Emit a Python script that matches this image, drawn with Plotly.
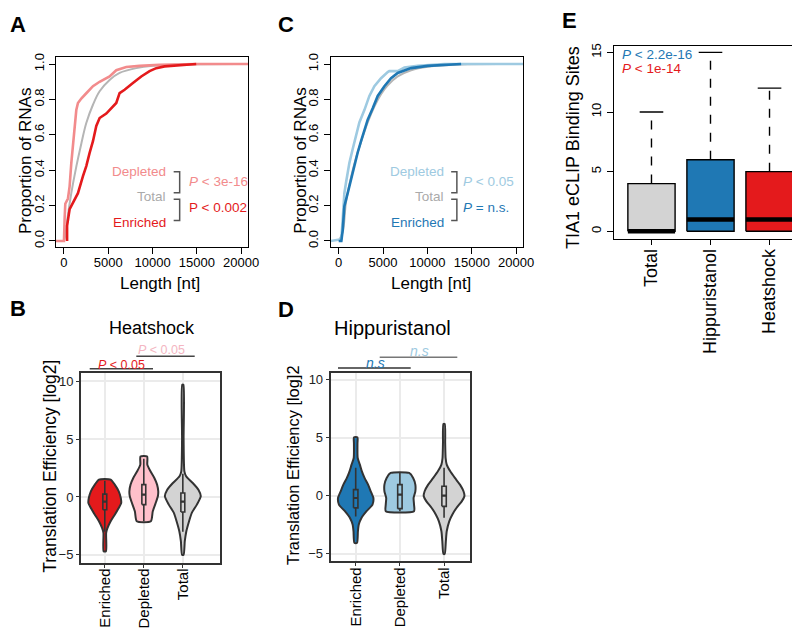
import plotly.graph_objects as go

W, H = 800, 630
FONT = "Liberation Sans, Arial, Helvetica, sans-serif"

# ---------------- data ----------------
# A: heat shock, cumulative distribution of transcript length
a_len_depleted = [-900, 0, 75, 150, 451, 639, 827, 1015, 1203, 1391, 1579, 1955, 2519, 3271,
                  4023, 5150, 5902, 7030, 8534, 10789, 15124, 20770]
a_prop_depleted = [0, 0, 0.13, 0.21, 0.24, 0.31, 0.44, 0.555, 0.655, 0.74, 0.78, 0.805, 0.835,
                   0.875, 0.90, 0.93, 0.965, 0.983, 0.99, 0.996, 1.0, 1.0]
a_len_enriched = [350, 350, 639, 1015, 1579, 2143, 2519, 2895, 3271, 3647, 4023, 4774, 5526,
                  5902, 6278, 6842, 7782, 8722, 9662, 10414, 11353, 14925]
a_prop_enriched = [0, 0.085, 0.18, 0.216, 0.27, 0.367, 0.423, 0.498, 0.564, 0.65, 0.695, 0.72,
                   0.76, 0.78, 0.836, 0.855, 0.893, 0.93, 0.96, 0.977, 0.987, 1.0]
a_len_total = [0, 150, 400, 827, 1391, 1955, 2519, 3271, 4023, 5150, 6278, 8158, 10038, 13797, 20770]
a_prop_total = [0, 0.03, 0.13, 0.27, 0.42, 0.55, 0.667, 0.77, 0.846, 0.91, 0.95, 0.977, 0.99, 0.998, 1.0]

# C: hippuristanol
c_len_depleted = [-900, 300, 451, 639, 827, 1203, 1579, 1955, 2331, 2895, 3459, 4023, 4774, 5526,
                  5700, 6654, 7406, 8910, 11917, 20770]
c_prop_depleted = [0, 0.01, 0.12, 0.27, 0.33, 0.44, 0.52, 0.60, 0.67, 0.74, 0.82, 0.875, 0.92,
                   0.955, 0.96, 0.96, 0.98, 0.99, 1.0, 1.0]
c_len_enriched = [0, 300, 451, 639, 1015, 1391, 1767, 2143, 2519, 2895, 3271, 3835, 4398, 5150,
                  5902, 6654, 8158, 10038, 13797]
c_prop_enriched = [0, 0, 0.06, 0.197, 0.27, 0.35, 0.42, 0.50, 0.564, 0.63, 0.686, 0.75, 0.82,
                   0.875, 0.92, 0.95, 0.977, 0.99, 1.0]
c_len_total = [0, 451, 827, 1391, 1955, 2519, 3271, 4023, 4774, 5526, 6654, 8158, 10038, 13797, 20770]
c_prop_total = [0, 0.05, 0.22, 0.36, 0.47, 0.56, 0.67, 0.76, 0.83, 0.88, 0.93, 0.965, 0.985, 0.998, 1.0]

len_ticks = [0, 5000, 10000, 15000, 20000]
len_labels = ["0", "5000", "10000", "15000", "20000"]
prop_ticks = [0, 0.2, 0.4, 0.6, 0.8, 1.0]
prop_labels = ["0.0", "0.2", "0.4", "0.6", "0.8", "1.0"]

# E: TIA1 eCLIP binding sites
e_groups = ["Total", "Hippuristanol", "Heatshock"]
e_q1 = [0, 0, 0]
e_median = [0, 1, 1]
e_q3 = [4, 6, 5]
e_upper = [10, 15, 12]

# B / D: violin outlines (level, half width) and inner box stats
violin_groups = ["Enriched", "Depleted", "Total"]

b_enriched_y = [1.5, 1.07, 0.49, -0.09, -0.53, -0.95, -1.53, -2.1, -2.68, -3.11, -4.7]
b_enriched_w = [0.15, 0.255, 0.357, 0.41, 0.42, 0.357, 0.255, 0.15, 0.07, 0.035, 0.03]
b_depleted_y = [3.5, 2.8, 2.22, 1.64, 1.07, 0.49, 0.06, -0.37, -1.24, -2.1]
b_depleted_w = [0.085, 0.09, 0.17, 0.27, 0.34, 0.37, 0.36, 0.32, 0.23, 0.18]
b_total_y = [9.71, 5.0, 2.22, 1.79, 1.21, 0.63, 0.06, -0.66, -1.38, -2.1, -2.97, -3.83, -4.99]
b_total_w = [0.015, 0.02, 0.04, 0.085, 0.255, 0.40, 0.46, 0.36, 0.23, 0.16, 0.09, 0.05, 0.02]
b_q1 = [-1.1, -0.66, -1.3]
b_median = [-0.4, 0.2, -0.4]
b_q3 = [0.25, 1.07, 0.35]
b_lower = [-3.0, -2.1, -3.0]
b_upper = [1.4, 3.3, 2.0]

d_enriched_y = [5.03, 4.5, 3.25, 2.68, 2.1, 1.53, 0.95, 0.38, -0.2, -0.77, -1.34, -1.92, -2.49, -3.07, -4.07]
d_enriched_w = [0.04, 0.04, 0.045, 0.094, 0.14, 0.2, 0.28, 0.34, 0.40, 0.38, 0.245, 0.13, 0.07, 0.05, 0.03]
d_depleted_y = [1.96, 1.53, 0.95, 0.38, -0.2, -0.77, -1.34]
d_depleted_w = [0.21, 0.30, 0.35, 0.35, 0.31, 0.32, 0.32]
d_total_y = [6.18, 4.5, 3.25, 2.68, 2.1, 1.53, 0.95, 0.38, -0.05, -0.49, -1.06, -1.64, -2.21, -3.07, -3.93, -5.02]
d_total_w = [0.015, 0.025, 0.035, 0.06, 0.14, 0.245, 0.36, 0.44, 0.46, 0.40, 0.28, 0.185, 0.117, 0.06, 0.04, 0.015]
d_q1 = [-1.05, -1.12, -0.92]
d_median = [-0.2, 0.09, 0.0]
d_q3 = [0.52, 0.95, 0.81]
d_lower = [-1.8, -1.34, -1.9]
d_upper = [2.4, 1.96, 2.4]

RED, PINK_LINE, PINK = "#E41A1C", "#F28B8C", "#FFC0CB"
BLUE, LBLUE = "#1F78B4", "#9ECAE1"
GREY_LINE, GREY_FILL = "#B5B5B5", "#D3D3D3"


def px(x):
    return x / W


def py(y):
    return 1 - y / H


fig = go.Figure()


def line(xs, ys, xa, ya, color="black", width=1.4, dash=None, fill=None):
    fig.add_trace(go.Scatter(x=xs, y=ys, mode="lines", xaxis=xa, yaxis=ya,
                             line=dict(color=color, width=width, dash=dash),
                             fill="toself" if fill else None, fillcolor=fill,
                             showlegend=False, hoverinfo="skip"))


# ---------------- ECDF panels ----------------
for xa, ya, series in [
    ("x", "y", [(a_len_total, a_prop_total, GREY_LINE, 2, "spline"),
                (a_len_depleted, a_prop_depleted, PINK_LINE, 2.6, "linear"),
                (a_len_enriched, a_prop_enriched, RED, 2.6, "linear")]),
    ("x2", "y2", [(c_len_total, c_prop_total, GREY_LINE, 2, "spline"),
                  (c_len_depleted, c_prop_depleted, LBLUE, 2.6, "linear"),
                  (c_len_enriched, c_prop_enriched, BLUE, 2.6, "linear")]),
]:
    for xs, ys, col, lw, shape in series:
        fig.add_trace(go.Scatter(x=xs, y=ys, mode="lines", xaxis=xa, yaxis=ya,
                                 line=dict(color=col, width=lw, shape=shape),
                                 showlegend=False, hoverinfo="skip"))

# ---------------- E: boxplot ----------------
e_colors = [GREY_FILL, BLUE, RED]
for i, g in enumerate(e_groups):
    c = i + 1
    line([c, c], [e_q3[i], e_upper[i]], "x3", "y3", dash="dash")
    line([c - 0.2, c + 0.2], [e_upper[i], e_upper[i]], "x3", "y3")
    line([c - 0.4, c + 0.4, c + 0.4, c - 0.4, c - 0.4],
         [e_q1[i], e_q1[i], e_q3[i], e_q3[i], e_q1[i]], "x3", "y3", fill=e_colors[i])
    line([c - 0.4, c + 0.4], [e_median[i], e_median[i]], "x3", "y3", width=4.5)


# ---------------- B / D: violins with inner boxes ----------------
def add_violin(c, ys, ws, col, xa, ya):
    xs = [c + w for w in ws] + [c - w for w in reversed(ws)] + [c + ws[0]]
    yy = ys + ys[::-1] + [ys[0]]
    fig.add_trace(go.Scatter(x=xs, y=yy, mode="lines", fill="toself", fillcolor=col,
                             line=dict(color="#333333", width=2, shape="spline", smoothing=0.6),
                             xaxis=xa, yaxis=ya, showlegend=False, hoverinfo="skip"))


b_violins = [(b_enriched_y, b_enriched_w), (b_depleted_y, b_depleted_w), (b_total_y, b_total_w)]
d_violins = [(d_enriched_y, d_enriched_w), (d_depleted_y, d_depleted_w), (d_total_y, d_total_w)]
b_colors = [RED, PINK, GREY_FILL]
d_colors = [BLUE, LBLUE, GREY_FILL]

for xa, ya, viols, cols, q1, med, q3, lo, hi in [
    ("x4", "y4", b_violins, b_colors, b_q1, b_median, b_q3, b_lower, b_upper),
    ("x5", "y5", d_violins, d_colors, d_q1, d_median, d_q3, d_lower, d_upper),
]:
    for i, (ys, ws) in enumerate(viols):
        c = i + 1
        add_violin(c, ys, ws, cols[i], xa, ya)
        line([c, c], [q3[i], hi[i]], xa, ya, color="#333333", width=1.6)
        line([c, c], [q1[i], lo[i]], xa, ya, color="#333333", width=1.6)
        line([c - 0.05, c + 0.05, c + 0.05, c - 0.05, c - 0.05],
             [q1[i], q1[i], q3[i], q3[i], q1[i]], xa, ya, color="#333333", width=1.6,
             fill=cols[i])
        line([c - 0.05, c + 0.05], [med[i], med[i]], xa, ya, color="#333333", width=2.2)


# ---------------- axes ----------------
def r_axis(**kw):
    d = dict(showline=True, mirror=True, linecolor="black", linewidth=1.2, ticks="outside",
             ticklen=6, tickcolor="black", tickwidth=1, showgrid=False, zeroline=False,
             tickfont=dict(family=FONT, size=13, color="black"), automargin=False)
    d.update(kw)
    return d


def gg_axis(**kw):
    d = dict(showline=True, mirror=True, linecolor="#333333", linewidth=2, ticks="outside",
             ticklen=3, tickcolor="#333333", showgrid=True, gridcolor="#EBEBEB", gridwidth=2,
             zeroline=False, tickfont=dict(family=FONT, size=13, color="#222222"),
             automargin=False)
    d.update(kw)
    return d


fig.update_layout(
    width=W, height=H, margin=dict(l=0, r=0, t=0, b=0),
    paper_bgcolor="white", plot_bgcolor="white", showlegend=False,
    font=dict(family=FONT, color="black"),
    xaxis=r_axis(domain=[px(48), px(240)], range=[-900, 20770], tickvals=len_ticks,
                 ticktext=len_labels, ticklabelstandoff=-3, anchor="y"),
    yaxis=r_axis(domain=[py(239.3), py(49)], range=[-0.036, 1.04], tickvals=prop_ticks,
                 ticktext=prop_labels, tickangle=-90, anchor="x"),
    xaxis2=r_axis(domain=[px(322.7), px(515)], range=[-900, 20770], tickvals=len_ticks,
                  ticktext=len_labels, ticklabelstandoff=-3, anchor="y2"),
    yaxis2=r_axis(domain=[py(239.3), py(49)], range=[-0.036, 1.04], tickvals=prop_ticks,
                  ticktext=prop_labels, tickangle=-90, anchor="x2"),
    xaxis3=r_axis(domain=[px(605.7), px(799.3)], range=[0.36, 3.64], tickvals=[1, 2, 3],
                  ticktext=e_groups, tickangle=-90, ticklen=5, ticklabelstandoff=-3,
                  tickfont=dict(family=FONT, size=18, color="black"), anchor="y3"),
    yaxis3=r_axis(domain=[py(230.7), py(37.7)], range=[-0.62, 15.56], tickvals=[0, 5, 10, 15],
                  tickangle=-90, ticklen=6, anchor="x3"),
    xaxis4=gg_axis(domain=[px(73), px(211.5)], range=[0.39, 3.94], tickvals=[1, 2, 3],
                   ticktext=violin_groups, tickangle=-90, ticklabelstandoff=-5,
                   tickfont=dict(family=FONT, size=15, color="black"), anchor="y4"),
    yaxis4=gg_axis(domain=[py(554.5), py(364.5)], range=[-5.67, 10.77], tickvals=[-5, 0, 5, 10],
                   anchor="x4"),
    xaxis5=gg_axis(domain=[px(322.7), px(461.7)], range=[0.434, 3.58], tickvals=[1, 2, 3],
                   ticktext=violin_groups, tickangle=-90, ticklabelstandoff=-5,
                   tickfont=dict(family=FONT, size=15, color="black"), anchor="y5"),
    yaxis5=gg_axis(domain=[py(553.3), py(365)], range=[-5.66, 10.58], tickvals=[-5, 0, 5, 10],
                   anchor="x5"),
)

# ---------------- text ----------------
ann = []


def text(t, x, y, size, color="black", xanchor="center", yanchor="middle", angle=0,
         xref="paper", yref="paper"):
    ann.append(dict(text=t, x=x, y=y, xref=xref, yref=yref, xanchor=xanchor, yanchor=yanchor,
                    textangle=angle, showarrow=False,
                    font=dict(family=FONT, size=size, color=color)))


# panel letters
for letter, x, y in [("A", 10, 16), ("C", 278, 16), ("E", 561, 12), ("B", 10, 300), ("D", 278, 301)]:
    text("<b>%s</b>" % letter, px(x), py(y), 22)

# axis titles and panel titles
text("Proportion of RNAs", px(17), py(153), 17, angle=-90)
text("Length [nt]", px(152), py(275), 17)
text("Proportion of RNAs", px(291.7), py(153), 17, angle=-90)
text("Length [nt]", px(423), py(275), 17)
text("TIA1 eCLIP Binding Sites", px(565), py(140), 18, angle=-90)
text("Translation Efficiency [log2]", px(41.7), py(458), 17.5, angle=-90)
text("Translation Efficiency [log]2", px(285), py(457), 16.4, angle=-90)
text("Heatshock", px(144), py(320), 18)
text("Hippuristanol", px(384), py(320), 20)

# legends inside ECDF panels
for xref, yref, right, left, cols, ptxt in [
    ("x", "y", 11738, 13916, (PINK_LINE, RED), ("<i>P</i> &lt; 3e-16", "P &lt; 0.002")),
    ("x2", "y2", 12043, 13804, (LBLUE, BLUE), ("<i>P</i> &lt; 0.05", "<i>P</i> = n.s.")),
]:
    text("Depleted", right, 0.395, 13.5, cols[0], xanchor="right", xref=xref, yref=yref)
    text("Total", right, 0.254, 13.5, "#AAAAAA", xanchor="right", xref=xref, yref=yref)
    text("Enriched", right, 0.107, 13.5, cols[1], xanchor="right", xref=xref, yref=yref)
    text(ptxt[0], left, 0.338, 13.5, cols[0], xanchor="left", xref=xref, yref=yref)
    text(ptxt[1], left, 0.188, 13.5, cols[1], xanchor="left", xref=xref, yref=yref)

shapes = []
for xref, yref, x0, x1 in [("x", "y", 12381, 13058), ("x2", "y2", 12675, 13318)]:
    for top, bot in [(0.391, 0.272), (0.235, 0.116)]:
        shapes.append(dict(type="path", xref=xref, yref=yref,
                           path="M %s,%s L %s,%s L %s,%s L %s,%s" % (x0, top, x1, top, x1, bot, x0, bot),
                           line=dict(color="#555555", width=1.5)))

text("<i>P</i> &lt; 2.2e-16", px(611.5), py(46.7), 13.5, BLUE, xanchor="left")
text("<i>P</i> &lt; 1e-14", px(611.5), py(61), 13.5, RED, xanchor="left")

# significance bars above violins
for x0, x1, y, col in [(81.7, 145, 360.7, "#444444"), (128.3, 186.7, 348.3, "#444444"),
                       (330, 402.7, 360, "#333333"), (371.7, 449.3, 349.3, "#777777")]:
    shapes.append(dict(type="line", xref="paper", yref="paper", x0=px(x0), x1=px(x1),
                       y0=py(y), y1=py(y), line=dict(color=col, width=1.5)))
text("<i>P</i> &lt; 0.05", px(114), py(356.5), 12.5, RED)
text("<i>P</i> &lt; 0.05", px(153.3), py(342), 12.5, "#F4B6C2")
text("<i>n.s</i>", px(367.3), py(355), 14, BLUE)
text("<i>n.s</i>", px(411.7), py(343.3), 14, LBLUE)

fig.update_layout(annotations=ann, shapes=shapes)

fig.write_html("out.html")
